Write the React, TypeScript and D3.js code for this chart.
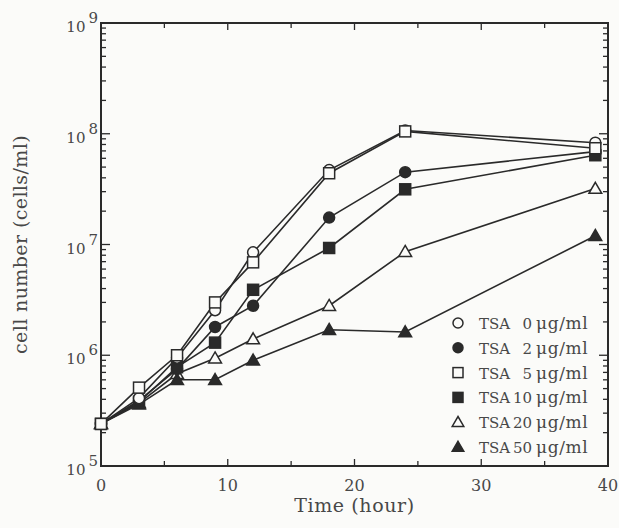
import { useEffect, useRef } from "react";
import * as d3 from "d3";

// sampling times (hours)
const hours = [0, 3, 6, 9, 12, 18, 24, 39];

// cell number (cells/ml) per TSA concentration
const tsa0 = [2.4e5, 4.1e5, 9.5e5, 2.55e6, 8.5e6, 4.7e7, 1.07e8, 8.3e7];
const tsa2 = [2.4e5, 3.9e5, 7.5e5, 1.8e6, 2.8e6, 1.75e7, 4.5e7, 6.9e7];
const tsa5 = [2.4e5, 5.1e5, 1.0e6, 3.0e6, 6.9e6, 4.4e7, 1.05e8, 7.4e7];
const tsa10 = [2.4e5, 3.8e5, 7.8e5, 1.3e6, 3.9e6, 9.3e6, 3.15e7, 6.4e7];
const tsa20 = [2.4e5, 3.7e5, 6.8e5, 9.4e5, 1.4e6, 2.8e6, 8.6e6, 3.2e7];
const tsa50 = [2.4e5, 3.6e5, 6.0e5, 6.0e5, 9.0e5, 1.7e6, 1.62e6, 1.2e7];

const doses = ["0", "2", "5", "10", "20", "50"];
const markers = ["circle-open", "circle", "square-open", "square", "triangle-open", "triangle"];

const xTicks = [0, 10, 20, 30, 40];
const yExponents = [5, 6, 7, 8, 9];

const FONT = "'DejaVu Serif', 'Liberation Serif', serif";
const INK = "#2a2a2a";
const TEXT = "#484848";

function drawMarker(g: d3.Selection<SVGGElement, unknown, null, undefined>, kind: string, cx: number, cy: number, s: number) {
  const open = kind.endsWith("open");
  const fill = open ? "#fbfbf9" : INK;
  if (kind.startsWith("circle")) {
    g.append("circle").attr("cx", cx).attr("cy", cy).attr("r", s * 0.5)
      .attr("fill", fill).attr("stroke", INK).attr("stroke-width", 1.5);
  } else if (kind.startsWith("square")) {
    g.append("rect").attr("x", cx - s / 2).attr("y", cy - s / 2).attr("width", s).attr("height", s)
      .attr("fill", fill).attr("stroke", INK).attr("stroke-width", 1.5);
  } else {
    const h = s * 0.95;
    g.append("path")
      .attr("d", `M${cx},${cy - h * 0.6}L${cx + s * 0.58},${cy + h * 0.45}L${cx - s * 0.58},${cy + h * 0.45}Z`)
      .attr("fill", fill).attr("stroke", INK).attr("stroke-width", 1.5).attr("stroke-linejoin", "miter");
  }
}

export default function App() {
  const svgRef = useRef<SVGSVGElement>(null);

  useEffect(() => {
    if (!svgRef.current) return;
    const W = 619;
    const H = 528;
    const svg = d3.select(svgRef.current);
    svg.selectAll("*").remove();

    const margin = { top: 23, right: 11, bottom: 62, left: 101 };
    const innerW = W - margin.left - margin.right;
    const innerH = H - margin.top - margin.bottom;

    svg.append("rect").attr("width", W).attr("height", H).attr("fill", "#fbfbf9");

    const g = svg.append("g").attr("transform", `translate(${margin.left},${margin.top})`);

    const x = d3.scaleLinear().domain([0, 40]).range([0, innerW]);
    const y = d3.scaleLog().domain([1e5, 1e9]).range([innerH, 0]);

    // minor / major ticks, all pointing inward
    const minorX = d3.range(0, 41, 5);
    const logTicks: number[] = [];
    for (let e = 5; e < 9; e++) for (let m = 1; m < 10; m++) logTicks.push(m * Math.pow(10, e));
    logTicks.push(1e9);

    const ticks = g.append("g").attr("stroke", INK).attr("stroke-width", 1.3);
    minorX.forEach((t) => {
      const len = t % 10 === 0 ? 7 : 5;
      ticks.append("line").attr("x1", x(t)).attr("x2", x(t)).attr("y1", innerH).attr("y2", innerH - len);
      ticks.append("line").attr("x1", x(t)).attr("x2", x(t)).attr("y1", 0).attr("y2", len);
    });
    logTicks.forEach((v) => {
      const major = Math.abs(Math.log10(v) - Math.round(Math.log10(v))) < 1e-9;
      const len = major ? 9 : 5;
      ticks.append("line").attr("x1", 0).attr("x2", len).attr("y1", y(v)).attr("y2", y(v));
      ticks.append("line").attr("x1", innerW).attr("x2", innerW - len).attr("y1", y(v)).attr("y2", y(v));
    });

    // frame
    g.append("rect")
      .attr("width", innerW)
      .attr("height", innerH)
      .attr("fill", "none")
      .attr("stroke", INK)
      .attr("stroke-width", 2);

    // x tick labels
    g.append("g")
      .selectAll("text")
      .data(xTicks)
      .join("text")
      .attr("x", (d) => x(d))
      .attr("y", innerH + 25)
      .attr("text-anchor", "middle")
      .attr("font-family", FONT)
      .attr("font-size", 16)
      .attr("fill", TEXT)
      .text((d) => d);

    // y tick labels 10^n
    const yl = g.append("g")
      .selectAll("text")
      .data(yExponents)
      .join("text")
      .attr("x", -3)
      .attr("y", (d) => y(Math.pow(10, d)) + 9)
      .attr("text-anchor", "end")
      .attr("font-family", FONT)
      .attr("font-size", 15)
      .attr("fill", TEXT);
    yl.append("tspan").text("10");
    yl.append("tspan").attr("dx", 3).attr("dy", -9).attr("font-size", 15).text((d) => d);

    // axis titles
    svg.append("text")
      .attr("x", margin.left + innerW / 2)
      .attr("y", 512)
      .attr("text-anchor", "middle")
      .attr("font-family", FONT)
      .attr("font-size", 19)
      .attr("letter-spacing", 0.6)
      .attr("fill", TEXT)
      .text("Time (hour)");

    svg.append("text")
      .attr("transform", `translate(27,${margin.top + innerH / 2}) rotate(-90)`)
      .attr("text-anchor", "middle")
      .attr("font-family", FONT)
      .attr("font-size", 19)
      .attr("letter-spacing", 0.4)
      .attr("fill", TEXT)
      .text("cell number (cells/ml)");

    // series
    const series = [tsa0, tsa2, tsa5, tsa10, tsa20, tsa50];
    const line = d3.line<number>()
      .x((_, i) => x(hours[i]))
      .y((d) => y(d));

    series.forEach((vals) => {
      g.append("path")
        .datum(vals)
        .attr("fill", "none")
        .attr("stroke", INK)
        .attr("stroke-width", 1.6)
        .attr("d", line);
    });

    const drawOrder = [4, 5, 3, 1, 0, 2];
    drawOrder.forEach((si) => {
      const mg = g.append("g");
      series[si].forEach((v, i) => drawMarker(mg, markers[si], x(hours[i]), y(v), 11));
    });

    // legend
    const legend = svg.append("g").attr("transform", "translate(458,323)");
    doses.forEach((d, i) => {
      const row = legend.append("g").attr("transform", `translate(0,${i * 24.8})`);
      drawMarker(row, markers[i], 0, 0, 10);
      const t = row.append("g")
        .attr("font-family", FONT)
        .attr("font-size", 15)
        .attr("fill", TEXT);
      t.append("text").attr("x", 21).attr("y", 6).text("TSA");
      t.append("text").attr("x", 74).attr("y", 6).attr("text-anchor", "end").text(d);
      t.append("text").attr("x", 78).attr("y", 6).attr("font-size", 17).attr("letter-spacing", 0.6).text("μg/ml");
    });
  }, []);

  return (
    <svg
      ref={svgRef}
      width={619}
      height={528}
      style={{ position: "absolute", left: 0, top: 0, display: "block" }}
    ></svg>
  );
}
